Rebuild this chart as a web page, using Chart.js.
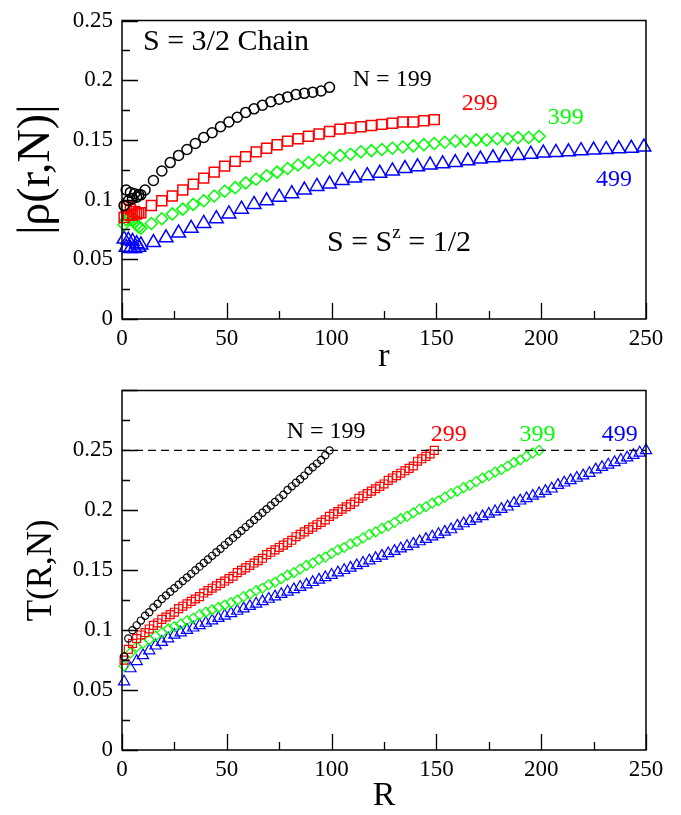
<!DOCTYPE html>
<html>
<head>
<meta charset="utf-8">
<script src="https://cdn.jsdelivr.net/npm/chart.js@4.4.0/dist/chart.umd.min.js"></script>
<style>
  body { margin: 0; background: #fff; }
  canvas { position: absolute; left: 0; }
  #top { top: 0; }
  #bot { top: 370px; }
</style>
</head>
<body>
<canvas id="top" width="681" height="380"></canvas>
<canvas id="bot" width="681" height="445"></canvas>
<script>
// ---- top panel: |rho(r,N)| ----
const rTop199 = [1,2,3,4,5,6,7,8,9,11,15,19,23,27,31,35,39,43,47,51,55,59,63,67,71,75,79,83,87,91,95,99];
const rho199 = [.095,.108,.099,.106,.101,.105,.102,.104,.104,.108,.116,.124,.131,.137,.142,.147,.152,.156,.161,.165,.169,.173,.176,.179,.182,.184,.186,.188,.189,.190,.191,.194];

const rTop299 = [1,2,3,4,5,6,7,8,9,14,19,24,29,34,39,44,49,54,59,64,69,74,79,84,89,94,99,104,109,114,119,124,129,134,139,144,149];
const rho299 = [.085,.094,.087,.092,.087,.090,.088,.089,.089,.095,.099,.103,.108,.113,.118,.123,.128,.132,.136,.140,.143,.146,.149,.151,.153,.155,.157,.159,.160,.161,.162,.163,.164,.165,.165,.166,.167];

const rTop399 = [1,2,3,4,5,6,7,8,9,14,19,24,29,34,39,44,49,54,59,64,69,74,79,84,89,94,99,104,109,114,119,124,129,134,139,144,149,154,159,164,169,174,179,184,189,194,199];
const rho399 = [.079,.083,.088,.086,.083,.081,.079,.077,.076,.080,.084,.088,.092,.096,.099,.103,.107,.110,.114,.117,.120,.123,.126,.129,.131,.133,.135,.137,.138,.140,.141,.142,.143,.144,.145,.146,.147,.148,.149,.149,.150,.150,.151,.151,.152,.152,.153];

const rTop499 = [1,2,3,4,5,6,7,8,9,15,21,27,33,39,45,51,57,63,69,75,81,87,93,99,105,111,117,123,129,135,141,147,153,159,165,171,177,183,189,195,201,207,213,219,225,231,237,243,249];
const rho499 = [.067,.060,.066,.059,.065,.059,.063,.060,.062,.064,.068,.072,.076,.080,.084,.088,.092,.096,.099,.102,.105,.108,.111,.113,.116,.118,.120,.122,.124,.126,.1275,.129,.130,.131,.1325,.134,.135,.136,.137,.138,.139,.1395,.140,.141,.1415,.142,.1425,.143,.144];

// ---- bottom panel: T(R,N), R = start, start+step, ... ----
const R199 = {start: 1, step: 2};
const T199 = [.078,.093,.100,.104,.108,.112,.115,.119,.122,.126,.129,.132,.135,.138,.141,.144,.147,.150,.153,.156,.159,.162,.165,.168,.171,.174,.177,.180,.183,.186,.189,.192,.195,.198,.201,.204,.207,.210,.213,.217,.220,.223,.226,.229,.233,.236,.239,.242,.246,.250];

const R299 = {start: 1, step: 2};
const T299 = [.075,.084,.089,.093,.096,.098,.101,.104,.106,.109,.111,.113,.115,.118,.120,.122,.124,.126,.128,.131,.133,.135,.137,.139,.141,.143,.145,.148,.150,.152,.154,.156,.158,.160,.163,.165,.167,.169,.171,.173,.175,.178,.180,.182,.184,.186,.188,.190,.192,.195,.197,.199,.201,.203,.205,.207,.210,.212,.214,.216,.218,.220,.222,.225,.227,.229,.231,.233,.235,.237,.241,.243,.245,.247,.250];

const R399 = {start: 1, step: 3};
const T399 = [.070,.081,.086,.089,.092,.095,.098,.101,.103,.105,.108,.110,.113,.115,.117,.119,.121,.123,.125,.128,.130,.133,.135,.138,.140,.143,.146,.148,.151,.154,.156,.159,.161,.164,.167,.169,.172,.174,.177,.180,.182,.185,.187,.190,.193,.195,.198,.201,.203,.206,.208,.211,.214,.216,.219,.221,.224,.227,.229,.232,.234,.237,.240,.242,.245,.248,.250];

const R499 = {start: 1, step: 3};
const T499 = [.057,.068,.074,.079,.083,.087,.090,.093,.096,.098,.100,.102,.104,.106,.108,.110,.112,.114,.116,.118,.120,.122,.124,.126,.128,.130,.132,.134,.136,.138,.140,.142,.144,.146,.148,.150,.152,.154,.156,.158,.160,.162,.164,.166,.168,.170,.172,.174,.176,.178,.180,.182,.184,.187,.189,.191,.193,.195,.197,.199,.201,.203,.206,.208,.210,.212,.214,.216,.218,.221,.223,.225,.227,.229,.231,.234,.236,.238,.240,.242,.244,.246,.248,.250];

const dashR = [0, 250];
const dashT = [0.25, 0.25];

const SERIF = "'Liberation Serif', 'DejaVu Serif', serif";
const BLACK = '#000000', RED = '#ff0000', GREEN = '#00ff00', BLUE = '#0000ff';

function pts(xs, ys) { return ys.map((v, i) => ({x: xs[i], y: v})); }
function grid(g, ys) { return ys.map((v, i) => ({x: g.start + i * g.step, y: v})); }

function series(data, color, style, radius, bw) {
  return {
    data: data,
    showLine: false,
    borderColor: color,
    backgroundColor: 'rgba(0,0,0,0)',
    pointStyle: style,
    pointRadius: radius,
    pointHoverRadius: radius,
    pointBorderWidth: bw,
    clip: false
  };
}

// frame, inward ticks and text labels
const framePlugin = {
  id: 'frame',
  afterDraw(chart, args, opts) {
    const ctx = chart.ctx, a = chart.chartArea;
    const xs = chart.scales.x, ys = chart.scales.y;
    ctx.save();
    ctx.strokeStyle = '#000';
    ctx.lineWidth = 1.5;
    ctx.strokeRect(a.left, a.top, a.right - a.left, a.bottom - a.top);
    ctx.lineWidth = 1.3;
    ctx.beginPath();
    for (let v = 0; v <= xs.max + 1e-9; v += 25) {
      const px = Math.round(xs.getPixelForValue(v)) + 0.5;
      const len = v % 50 === 0 ? 16 : 8;
      ctx.moveTo(px, a.bottom);
      ctx.lineTo(px, a.bottom - len);
    }
    for (let k = 0; k * 0.025 <= ys.max + 1e-9; k++) {
      const py = Math.round(ys.getPixelForValue(k * 0.025)) + 0.5;
      const len = k % 2 === 0 ? 16 : 8;
      ctx.moveTo(a.left, py);
      ctx.lineTo(a.left + len, py);
    }
    ctx.stroke();

    ctx.textBaseline = 'alphabetic';
    ctx.textAlign = 'left';
    (opts.notes || []).forEach(n => {
      let px = xs.getPixelForValue(n.x);
      const py = ys.getPixelForValue(n.y);
      ctx.fillStyle = n.color;
      n.parts.forEach(p => {
        ctx.font = p.size + 'px ' + SERIF;
        ctx.fillText(p.t, px, py + (p.dy || 0));
        px += ctx.measureText(p.t).width;
      });
    });
    ctx.restore();
  }
};

function baseOptions(yMax, padTop, xTitle, yTitle, yTitleSize, yTitlePad, xTitlePad, xHeight, notes) {
  return {
    responsive: false,
    animation: false,
    devicePixelRatio: 1,
    layout: { padding: { left: 0, top: padTop, right: 35, bottom: 0 } },
    plugins: {
      legend: { display: false },
      tooltip: { enabled: false },
      frame: { notes: notes }
    },
    scales: {
      x: {
        type: 'linear', min: 0, max: 250,
        afterFit: s => { s.height = xHeight; },
        grid: { display: false, drawTicks: false },
        border: { display: false },
        ticks: { stepSize: 50, padding: 8, color: '#000', font: { family: SERIF, size: 23, lineHeight: 1 } },
        title: { display: true, text: xTitle, color: '#000', padding: { top: 0, bottom: xTitlePad },
                 font: { family: SERIF, size: 34, lineHeight: 1 } }
      },
      y: {
        type: 'linear', min: 0, max: yMax,
        afterFit: s => { s.width = 122; },
        grid: { display: false, drawTicks: false },
        border: { display: false },
        ticks: {
          stepSize: 0.05, padding: 9, color: '#000',
          font: { family: SERIF, size: 23, lineHeight: 1 },
          callback: v => v > 0.26 ? '' : String(+v.toFixed(2))
        },
        title: { display: true, text: yTitle, color: '#000', padding: { top: yTitlePad, bottom: 0 },
                 font: { family: SERIF, size: yTitleSize, lineHeight: 1 } }
      }
    }
  };
}

new Chart(document.getElementById('top').getContext('2d'), {
  type: 'scatter',
  data: {
    datasets: [
      series(pts(rTop199, rho199), BLACK, 'circle', 5, 1.5),
      series(pts(rTop299, rho299), RED, 'rect', 7, 1.5),
      series(pts(rTop399, rho399), GREEN, 'rectRot', 6, 1.5),
      series(pts(rTop499, rho499), BLUE, 'triangle', 8, 1.5)
    ]
  },
  options: baseOptions(0.25, 15, 'r', '|\u03c1(r,N)|', 46, 14, 6, 61, [
    { x: 10, y: 0.2253, color: BLACK, parts: [{ t: 'S = 3/2 Chain', size: 30 }] },
    { x: 110.1, y: 0.1951, color: BLACK, parts: [{ t: 'N = 199', size: 24 }] },
    { x: 162.1, y: 0.1754, color: RED, parts: [{ t: '299', size: 24 }] },
    { x: 203.1, y: 0.1637, color: GREEN, parts: [{ t: '399', size: 24 }] },
    { x: 226.1, y: 0.1116, color: BLUE, parts: [{ t: '499', size: 24 }] },
    { x: 97.8, y: 0.0567, color: BLACK, parts: [
      { t: 'S = S', size: 30 }, { t: 'z', size: 19, dy: -13 }, { t: ' = 1/2', size: 30 }
    ] }
  ]),
  plugins: [framePlugin]
});

new Chart(document.getElementById('bot').getContext('2d'), {
  type: 'scatter',
  data: {
    datasets: [
      {
        data: pts(dashR, dashT), showLine: true, borderColor: BLACK, borderWidth: 1.3,
        borderDash: [8, 5], pointRadius: 0, pointHoverRadius: 0, fill: false
      },
      series(grid(R199, T199), BLACK, 'circle', 3.6, 1.2),
      series(grid(R299, T299), RED, 'rect', 5.6, 1.2),
      series(grid(R399, T399), GREEN, 'rectRot', 5, 1.2),
      series(grid(R499, T499), BLUE, 'triangle', 6.5, 1.2)
    ]
  },
  options: baseOptions(0.3, 14, 'R', 'T(R,N)', 35, 24, 2, 65, [
    { x: 78.6, y: 0.2607, color: BLACK, parts: [{ t: 'N = 199', size: 24 }] },
    { x: 147.3, y: 0.2582, color: RED, parts: [{ t: '299', size: 24 }] },
    { x: 189.6, y: 0.2582, color: GREEN, parts: [{ t: '399', size: 24 }] },
    { x: 228.9, y: 0.2582, color: BLUE, parts: [{ t: '499', size: 24 }] }
  ]),
  plugins: [framePlugin]
});
</script>
</body>
</html>
